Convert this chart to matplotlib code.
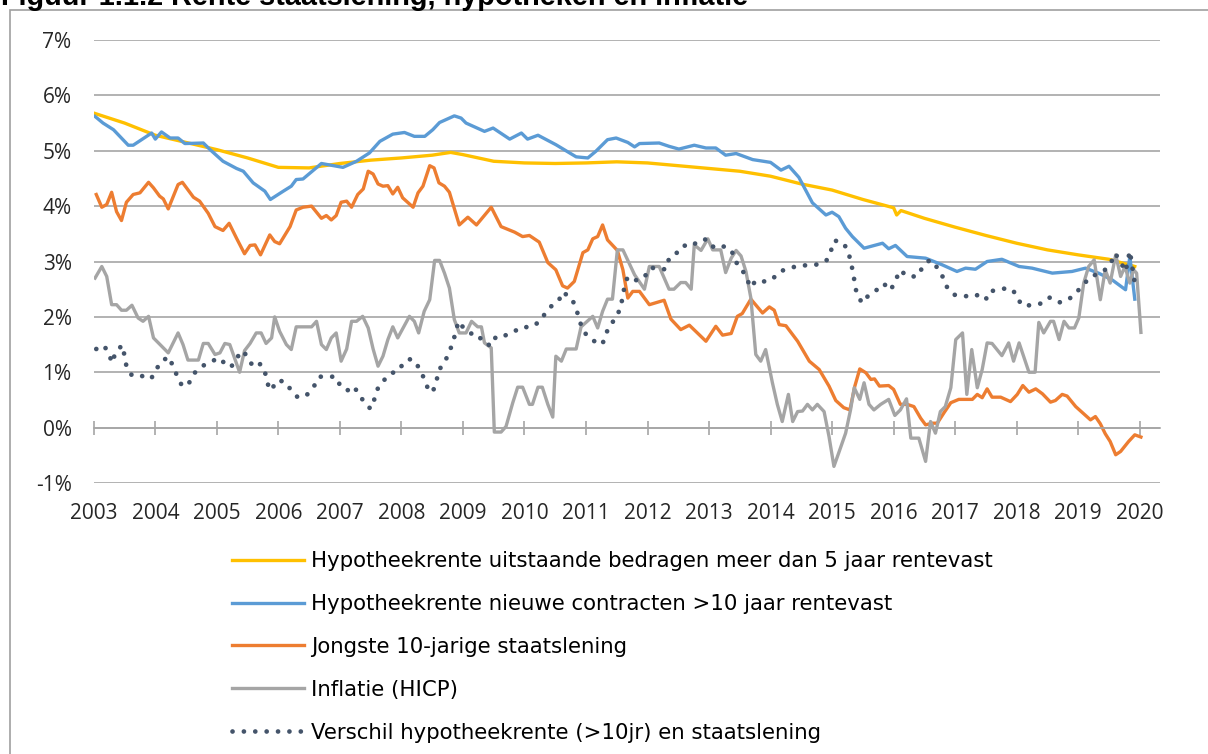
import matplotlib
matplotlib.use('Agg')
import matplotlib.pyplot as plt
from matplotlib.patches import Rectangle

# Hypotheekrente uitstaande bedragen > 5 jaar rentevast (%)
yellow_x = [2003.0, 2003.5, 2004.0, 2004.5, 2005.0, 2005.5, 2006.0, 2006.5, 2007.0, 2007.5,
            2008.0, 2008.5, 2008.8, 2009.0, 2009.5, 2010.0, 2010.5, 2011.0, 2011.5, 2012.0,
            2012.5, 2013.0, 2013.5, 2014.0, 2014.5, 2015.0, 2015.5, 2016.0, 2016.05, 2016.12,
            2016.5, 2017.0, 2017.5, 2018.0, 2018.5, 2019.0, 2019.5, 2019.92]
yellow_y = [5.68, 5.50, 5.28, 5.15, 5.02, 4.87, 4.70, 4.69, 4.77, 4.83,
            4.87, 4.92, 4.97, 4.93, 4.81, 4.78, 4.77, 4.78, 4.80, 4.78,
            4.73, 4.68, 4.63, 4.54, 4.40, 4.29, 4.12, 3.97, 3.84, 3.92,
            3.78, 3.62, 3.47, 3.33, 3.21, 3.12, 3.04, 2.91]

# Hypotheekrente nieuwe contracten > 10 jaar rentevast (%)
blue_x = [2003.02, 2003.15, 2003.32, 2003.56, 2003.64, 2003.94, 2004.0, 2004.1, 2004.24, 2004.37,
          2004.48, 2004.78, 2004.89, 2005.1, 2005.32, 2005.43, 2005.59, 2005.78, 2005.87, 2006.08,
          2006.21, 2006.29, 2006.40, 2006.70, 2007.05, 2007.27, 2007.48, 2007.65, 2007.86, 2008.05,
          2008.21, 2008.38, 2008.51, 2008.62, 2008.86, 2008.97, 2009.05, 2009.35, 2009.49, 2009.76,
          2009.95, 2010.05, 2010.22, 2010.51, 2010.84, 2011.03, 2011.16, 2011.35, 2011.49, 2011.68,
          2011.79, 2011.87, 2012.19, 2012.35, 2012.51, 2012.76, 2012.95, 2013.11, 2013.27, 2013.44,
          2013.71, 2014.0, 2014.17, 2014.30, 2014.46, 2014.68, 2014.90, 2015.0, 2015.11, 2015.22,
          2015.33, 2015.52, 2015.82, 2015.92, 2016.03, 2016.22, 2016.52, 2016.79, 2017.03, 2017.17,
          2017.33, 2017.52, 2017.76, 2018.04, 2018.25, 2018.58, 2018.90, 2019.12, 2019.33, 2019.55,
          2019.77, 2019.84, 2019.92]
blue_y = [5.62, 5.50, 5.38, 5.10, 5.10, 5.32, 5.21, 5.34, 5.23, 5.23,
          5.13, 5.14, 5.02, 4.81, 4.68, 4.63, 4.42, 4.27, 4.12, 4.27,
          4.36, 4.48, 4.49, 4.77, 4.70, 4.81, 4.96, 5.17, 5.30, 5.33,
          5.26, 5.26, 5.38, 5.51, 5.63, 5.59, 5.50, 5.35, 5.41, 5.21,
          5.32, 5.21, 5.28, 5.11, 4.89, 4.87, 4.99, 5.20, 5.23, 5.15,
          5.07, 5.13, 5.14, 5.08, 5.03, 5.10, 5.05, 5.05, 4.92, 4.95,
          4.84, 4.79, 4.65, 4.72, 4.52, 4.06, 3.84, 3.89, 3.81, 3.60,
          3.45, 3.24, 3.33, 3.23, 3.29, 3.09, 3.06, 2.94, 2.82, 2.88,
          2.86, 3.00, 3.04, 2.91, 2.88, 2.79, 2.82, 2.88, 2.79, 2.67,
          2.49, 3.09, 2.32]

# Jongste 10-jarige staatslening (%)
orange_x = [2003.04, 2003.13, 2003.21, 2003.29, 2003.37, 2003.45, 2003.53, 2003.64, 2003.75, 2003.89,
            2003.97, 2004.07, 2004.13, 2004.21, 2004.37, 2004.44, 2004.62, 2004.72, 2004.86, 2004.97,
            2005.10, 2005.20, 2005.32, 2005.45, 2005.54, 2005.62, 2005.71, 2005.86, 2005.94, 2006.02,
            2006.19, 2006.29, 2006.40, 2006.54, 2006.70, 2006.78, 2006.86, 2006.94, 2007.02, 2007.11,
            2007.19, 2007.29, 2007.38, 2007.46, 2007.54, 2007.62, 2007.70, 2007.78, 2007.86, 2007.94,
            2008.02, 2008.19, 2008.27, 2008.35, 2008.46, 2008.53, 2008.61, 2008.70, 2008.78, 2008.94,
            2009.08, 2009.22, 2009.46, 2009.62, 2009.84, 2009.97, 2010.08, 2010.24, 2010.38, 2010.51,
            2010.62, 2010.70, 2010.81, 2010.95, 2011.03, 2011.11, 2011.19, 2011.27, 2011.35, 2011.51,
            2011.60, 2011.68, 2011.76, 2011.87, 2012.03, 2012.27, 2012.38, 2012.54, 2012.68, 2012.95,
            2013.11, 2013.22, 2013.36, 2013.46, 2013.54, 2013.68, 2013.87, 2013.98, 2014.06, 2014.14,
            2014.25, 2014.44, 2014.63, 2014.79, 2014.95, 2015.06, 2015.19, 2015.29, 2015.37, 2015.45,
            2015.55, 2015.63, 2015.69, 2015.77, 2015.92, 2016.00, 2016.11, 2016.22, 2016.33, 2016.44,
            2016.52, 2016.63, 2016.71, 2016.82, 2016.93, 2017.06, 2017.28, 2017.36, 2017.44, 2017.52,
            2017.60, 2017.74, 2017.90, 2018.01, 2018.10, 2018.20, 2018.31, 2018.42, 2018.55, 2018.63,
            2018.74, 2018.82, 2018.96, 2019.12, 2019.20, 2019.28, 2019.36, 2019.44, 2019.52, 2019.61,
            2019.69, 2019.82, 2019.92, 2020.02]
orange_y = [4.21, 3.98, 4.03, 4.25, 3.90, 3.74, 4.07, 4.21, 4.24, 4.43,
            4.33, 4.18, 4.13, 3.95, 4.39, 4.43, 4.16, 4.09, 3.87, 3.63,
            3.56, 3.69, 3.42, 3.14, 3.29, 3.30, 3.12, 3.48, 3.36, 3.32,
            3.63, 3.93, 3.98, 4.00, 3.78, 3.83, 3.75, 3.83, 4.07, 4.09,
            3.98, 4.21, 4.31, 4.63, 4.58, 4.40, 4.36, 4.37, 4.22, 4.34,
            4.15, 3.98, 4.24, 4.36, 4.73, 4.69, 4.42, 4.36, 4.25, 3.66,
            3.80, 3.66, 3.98, 3.63, 3.53, 3.45, 3.47, 3.35, 2.98, 2.85,
            2.56, 2.52, 2.64, 3.16, 3.21, 3.41, 3.45, 3.66, 3.39, 3.20,
            2.85, 2.34, 2.46, 2.46, 2.22, 2.30, 1.96, 1.77, 1.85, 1.56,
            1.83, 1.67, 1.70, 2.01, 2.06, 2.32, 2.07, 2.18, 2.12, 1.86,
            1.84, 1.56, 1.20, 1.05, 0.75, 0.49, 0.36, 0.32, 0.75, 1.06,
            0.99, 0.87, 0.88, 0.75, 0.76, 0.69, 0.42, 0.42, 0.38, 0.17,
            0.05, 0.08, 0.08, 0.27, 0.45, 0.51, 0.51, 0.60, 0.54, 0.70,
            0.55, 0.55, 0.47, 0.60, 0.76, 0.64, 0.70, 0.61, 0.46, 0.49,
            0.60, 0.57, 0.38, 0.22, 0.14, 0.20, 0.07, -0.11, -0.25, -0.49,
            -0.43, -0.25, -0.13, -0.17]

# Inflatie (HICP, %)
gray_x = [2003.02, 2003.13, 2003.21, 2003.29, 2003.37, 2003.45, 2003.53, 2003.62, 2003.72, 2003.80,
          2003.89, 2003.97, 2004.21, 2004.37, 2004.45, 2004.53, 2004.70, 2004.78, 2004.86, 2004.97,
          2005.05, 2005.13, 2005.21, 2005.37, 2005.45, 2005.54, 2005.64, 2005.72, 2005.80, 2005.89,
          2005.94, 2006.02, 2006.13, 2006.21, 2006.29, 2006.54, 2006.62, 2006.70, 2006.78, 2006.86,
          2006.94, 2007.02, 2007.11, 2007.19, 2007.27, 2007.37, 2007.46, 2007.54, 2007.62, 2007.70,
          2007.78, 2007.86, 2007.94, 2008.13, 2008.21, 2008.28, 2008.37, 2008.46, 2008.54, 2008.62,
          2008.70, 2008.78, 2008.86, 2008.94, 2009.05, 2009.14, 2009.24, 2009.30, 2009.35, 2009.46,
          2009.51, 2009.62, 2009.70, 2009.81, 2009.89, 2009.97, 2010.08, 2010.13, 2010.22, 2010.29,
          2010.38, 2010.46, 2010.51, 2010.60, 2010.68, 2010.84, 2010.92, 2011.11, 2011.19, 2011.27,
          2011.35, 2011.43, 2011.51, 2011.60, 2011.79, 2011.95, 2012.03, 2012.19, 2012.35, 2012.43,
          2012.54, 2012.62, 2012.71, 2012.76, 2012.87, 2012.98, 2013.06, 2013.19, 2013.27, 2013.36,
          2013.44, 2013.52, 2013.60, 2013.68, 2013.76, 2013.84, 2013.92, 2014.03, 2014.11, 2014.19,
          2014.29, 2014.36, 2014.44, 2014.52, 2014.60, 2014.68, 2014.76, 2014.87, 2014.95, 2015.03,
          2015.11, 2015.22, 2015.30, 2015.36, 2015.45, 2015.52, 2015.60, 2015.68, 2015.79, 2015.92,
          2016.02, 2016.11, 2016.21, 2016.28, 2016.41, 2016.52, 2016.60, 2016.68, 2016.76, 2016.84,
          2016.93, 2017.01, 2017.12, 2017.19, 2017.27, 2017.36, 2017.44, 2017.52, 2017.60, 2017.76,
          2017.87, 2017.95, 2018.04, 2018.20, 2018.30, 2018.36, 2018.44, 2018.55, 2018.60, 2018.69,
          2018.77, 2018.85, 2018.94, 2019.01, 2019.09, 2019.17, 2019.26, 2019.36, 2019.44, 2019.52,
          2019.61, 2019.69, 2019.76, 2019.84, 2019.90, 2019.95, 2020.02]
gray_y = [2.70, 2.91, 2.73, 2.22, 2.22, 2.12, 2.12, 2.21, 1.98, 1.92,
          2.01, 1.62, 1.35, 1.71, 1.50, 1.22, 1.22, 1.52, 1.52, 1.32,
          1.35, 1.52, 1.50, 1.00, 1.39, 1.52, 1.71, 1.71, 1.52, 1.62,
          2.00, 1.74, 1.50, 1.41, 1.82, 1.82, 1.92, 1.50, 1.41, 1.62,
          1.71, 1.20, 1.42, 1.92, 1.92, 2.01, 1.80, 1.42, 1.11, 1.29,
          1.59, 1.82, 1.62, 2.01, 1.92, 1.71, 2.10, 2.31, 3.02, 3.02,
          2.79, 2.52, 1.95, 1.71, 1.71, 1.92, 1.82, 1.82, 1.53, 1.44,
          -0.08, -0.08, 0.02, 0.45, 0.73, 0.73, 0.42, 0.42, 0.73, 0.73,
          0.42, 0.19, 1.29, 1.20, 1.42, 1.42, 1.82, 2.01, 1.80, 2.10,
          2.32, 2.32, 3.21, 3.21, 2.76, 2.50, 2.91, 2.91, 2.50, 2.50,
          2.62, 2.62, 2.50, 3.30, 3.20, 3.41, 3.21, 3.21, 2.80, 3.06,
          3.20, 3.10, 2.82, 2.34, 1.32, 1.20, 1.41, 0.81, 0.42, 0.11,
          0.60, 0.11, 0.29, 0.30, 0.42, 0.32, 0.42, 0.29, -0.16, -0.70,
          -0.45, -0.10, 0.32, 0.72, 0.51, 0.81, 0.42, 0.32, 0.42, 0.51,
          0.22, 0.32, 0.52, -0.19, -0.19, -0.61, 0.11, -0.10, 0.29, 0.38,
          0.72, 1.59, 1.71, 0.60, 1.41, 0.72, 1.05, 1.53, 1.52, 1.30,
          1.53, 1.20, 1.53, 1.00, 1.00, 1.90, 1.71, 1.92, 1.92, 1.59,
          1.92, 1.80, 1.80, 1.98, 2.61, 2.91, 3.03, 2.31, 2.85, 2.61,
          3.12, 2.73, 2.91, 2.61, 2.85, 2.79, 1.72]

# Verschil hypotheekrente (>10jr) en staatslening (procentpunt)
dots_x = [2003.04, 2003.17, 2003.25, 2003.30, 2003.35, 2003.46, 2003.50, 2003.53, 2003.62, 2003.76,
          2003.93, 2004.00, 2004.09, 2004.22, 2004.29, 2004.36, 2004.44, 2004.55, 2004.63, 2004.76,
          2004.89, 2005.03, 2005.15, 2005.23, 2005.32, 2005.43, 2005.51, 2005.60, 2005.71, 2005.79,
          2005.83, 2005.89, 2005.96, 2006.09, 2006.20, 2006.32, 2006.47, 2006.58, 2006.67, 2006.79,
          2006.93, 2007.01, 2007.12, 2007.22, 2007.32, 2007.41, 2007.50, 2007.57, 2007.62, 2007.72,
          2007.84, 2007.92, 2008.00, 2008.12, 2008.23, 2008.30, 2008.39, 2008.44, 2008.51, 2008.57,
          2008.60, 2008.70, 2008.77, 2008.84, 2008.88, 2008.93, 2009.01, 2009.13, 2009.24, 2009.33,
          2009.46, 2009.54, 2009.71, 2009.87, 2009.97, 2010.09, 2010.23, 2010.33, 2010.45, 2010.56,
          2010.62, 2010.77, 2010.84, 2010.89, 2010.94, 2011.03, 2011.15, 2011.26, 2011.31, 2011.36,
          2011.47, 2011.55, 2011.59, 2011.62, 2011.67, 2011.74, 2011.83, 2011.98, 2012.06, 2012.22,
          2012.31, 2012.35, 2012.47, 2012.58, 2012.71, 2012.85, 2012.97, 2013.08, 2013.22, 2013.37,
          2013.41, 2013.53, 2013.60, 2013.69, 2013.75, 2013.90, 2014.02, 2014.15, 2014.31, 2014.48,
          2014.64, 2014.78, 2014.91, 2014.98, 2015.04, 2015.19, 2015.27, 2015.31, 2015.35, 2015.37,
          2015.41, 2015.49, 2015.60, 2015.73, 2015.84, 2015.95, 2016.03, 2016.10, 2016.24, 2016.38,
          2016.48, 2016.59, 2016.71, 2016.80, 2016.86, 2016.98, 2017.13, 2017.29, 2017.42, 2017.52,
          2017.61, 2017.80, 2017.94, 2018.02, 2018.12, 2018.25, 2018.39, 2018.53, 2018.69, 2018.84,
          2018.97, 2019.09, 2019.20, 2019.42, 2019.53, 2019.60, 2019.69, 2019.77, 2019.84, 2019.89,
          2019.92]
dots_y = [1.42, 1.48, 1.31, 1.17, 1.35, 1.49, 1.30, 1.11, 0.94, 0.94,
          0.88, 1.02, 1.19, 1.28, 1.10, 0.92, 0.74, 0.81, 0.98, 1.11,
          1.18, 1.26, 1.14, 1.09, 1.26, 1.39, 1.24, 1.09, 1.15, 0.97,
          0.78, 0.67, 0.84, 0.84, 0.69, 0.54, 0.60, 0.75, 0.92, 0.92,
          0.92, 0.75, 0.67, 0.75, 0.59, 0.43, 0.34, 0.54, 0.72, 0.86,
          0.99, 1.00, 1.11, 1.24, 1.20, 1.03, 0.85, 0.66, 0.65, 0.83,
          1.03, 1.17, 1.35, 1.54, 1.73, 1.92, 1.80, 1.70, 1.69, 1.53,
          1.48, 1.65, 1.67, 1.76, 1.82, 1.81, 1.90, 2.05, 2.21, 2.30,
          2.45, 2.33, 2.15, 1.96, 1.78, 1.64, 1.55, 1.50, 1.62, 1.80,
          1.96, 2.13, 2.32, 2.51, 2.70, 2.73, 2.65, 2.76, 2.89, 2.85,
          2.87, 3.06, 3.15, 3.29, 3.27, 3.39, 3.40, 3.25, 3.28, 3.20,
          3.02, 2.88, 2.70, 2.53, 2.65, 2.64, 2.67, 2.82, 2.88, 2.93,
          2.93, 2.95, 3.02, 3.19, 3.38, 3.33, 3.15, 2.96, 2.76, 2.57,
          2.39, 2.25, 2.40, 2.49, 2.60, 2.48, 2.65, 2.84, 2.73, 2.73,
          2.91, 3.03, 2.89, 2.72, 2.55, 2.40, 2.38, 2.36, 2.42, 2.32,
          2.47, 2.51, 2.49, 2.31, 2.19, 2.22, 2.24, 2.35, 2.26, 2.31,
          2.44, 2.59, 2.72, 2.83, 2.97, 3.15, 2.99, 2.82, 3.19, 2.82,
          2.61]

labels = ['Hypotheekrente uitstaande bedragen meer dan 5 jaar rentevast',
          'Hypotheekrente nieuwe contracten >10 jaar rentevast',
          'Jongste 10-jarige staatslening',
          'Inflatie (HICP)',
          'Verschil hypotheekrente (>10jr) en staatslening']
colors = ['#FFC000', '#5B9BD5', '#ED7D31', '#A5A5A5', '#44546A']
years = list(range(2003, 2021))
pct_ticks = list(range(-1, 8))

W, H = 1208, 754
grid_c = '#A6A6A6'

fig = plt.figure(figsize=(W / 100, H / 100), dpi=100)
ax = fig.add_axes([93.8 / W, 1 - 483 / H, (1160 - 93.8) / W, 443 / H])

lw = 2.4
ax.plot(yellow_x, yellow_y, color=colors[0], lw=lw, label=labels[0], solid_joinstyle='round')
ax.plot(blue_x, blue_y, color=colors[1], lw=lw, label=labels[1], solid_joinstyle='round')
ax.plot(orange_x, orange_y, color=colors[2], lw=lw, label=labels[2], solid_joinstyle='round')
ax.plot(gray_x, gray_y, color=colors[3], lw=lw, label=labels[3], solid_joinstyle='round')
ax.plot(dots_x, dots_y, color=colors[4], lw=3.4, linestyle=(0, (0.01, 2.4)),
        dash_capstyle='round', label=labels[4])

ax.set_xlim(2003, 2020.33)
ax.set_ylim(-1, 7)
ax.set_yticks(pct_ticks)
ax.set_yticklabels([f'{v}%' for v in pct_ticks])
ax.set_xticks(years)
ax.set_xticklabels([str(y) for y in years])

for s in ['top', 'right', 'left']:
    ax.spines[s].set_visible(False)
ax.spines['bottom'].set_position(('data', 0))
ax.spines['bottom'].set_color(grid_c)
ax.spines['bottom'].set_linewidth(1.2)
ax.grid(axis='y', color=grid_c, lw=1.2)
ax.set_axisbelow(True)

ax.tick_params(axis='y', length=0, pad=16, labelsize=15, labelcolor='#262626')
ax.tick_params(axis='x', direction='inout', length=10, width=1.2, color=grid_c,
               pad=49, labelsize=15, labelcolor='#262626')
for t in ax.get_xticklabels() + ax.get_yticklabels():
    t.set_fontfamily('Open Sans')

leg = fig.legend(loc='upper left', bbox_to_anchor=(232 / W, 1 - 551 / H), frameon=False,
                 prop={'family': 'DejaVu Sans', 'size': 15.3}, handlelength=3.4,
                 handletextpad=0.33, labelspacing=1.08, borderpad=0, borderaxespad=0)

# outer chart frame (partly outside the image)
fig.add_artist(Rectangle((10 / W, -0.1), 1.2, 1 - 10 / H + 0.1, transform=fig.transFigure,
                         fill=False, edgecolor='#A0A0A0', lw=1.2))

# figure title, cut off by the top edge as in the source document
fig.text(0.001, 1 - 5 / H, 'Figuur 1.1.2 Rente staatslening, hypotheken en inflatie',
         fontsize=20.8, fontweight='bold', family='Liberation Sans', va='baseline', ha='left')

fig.savefig('out.png', dpi=100)
